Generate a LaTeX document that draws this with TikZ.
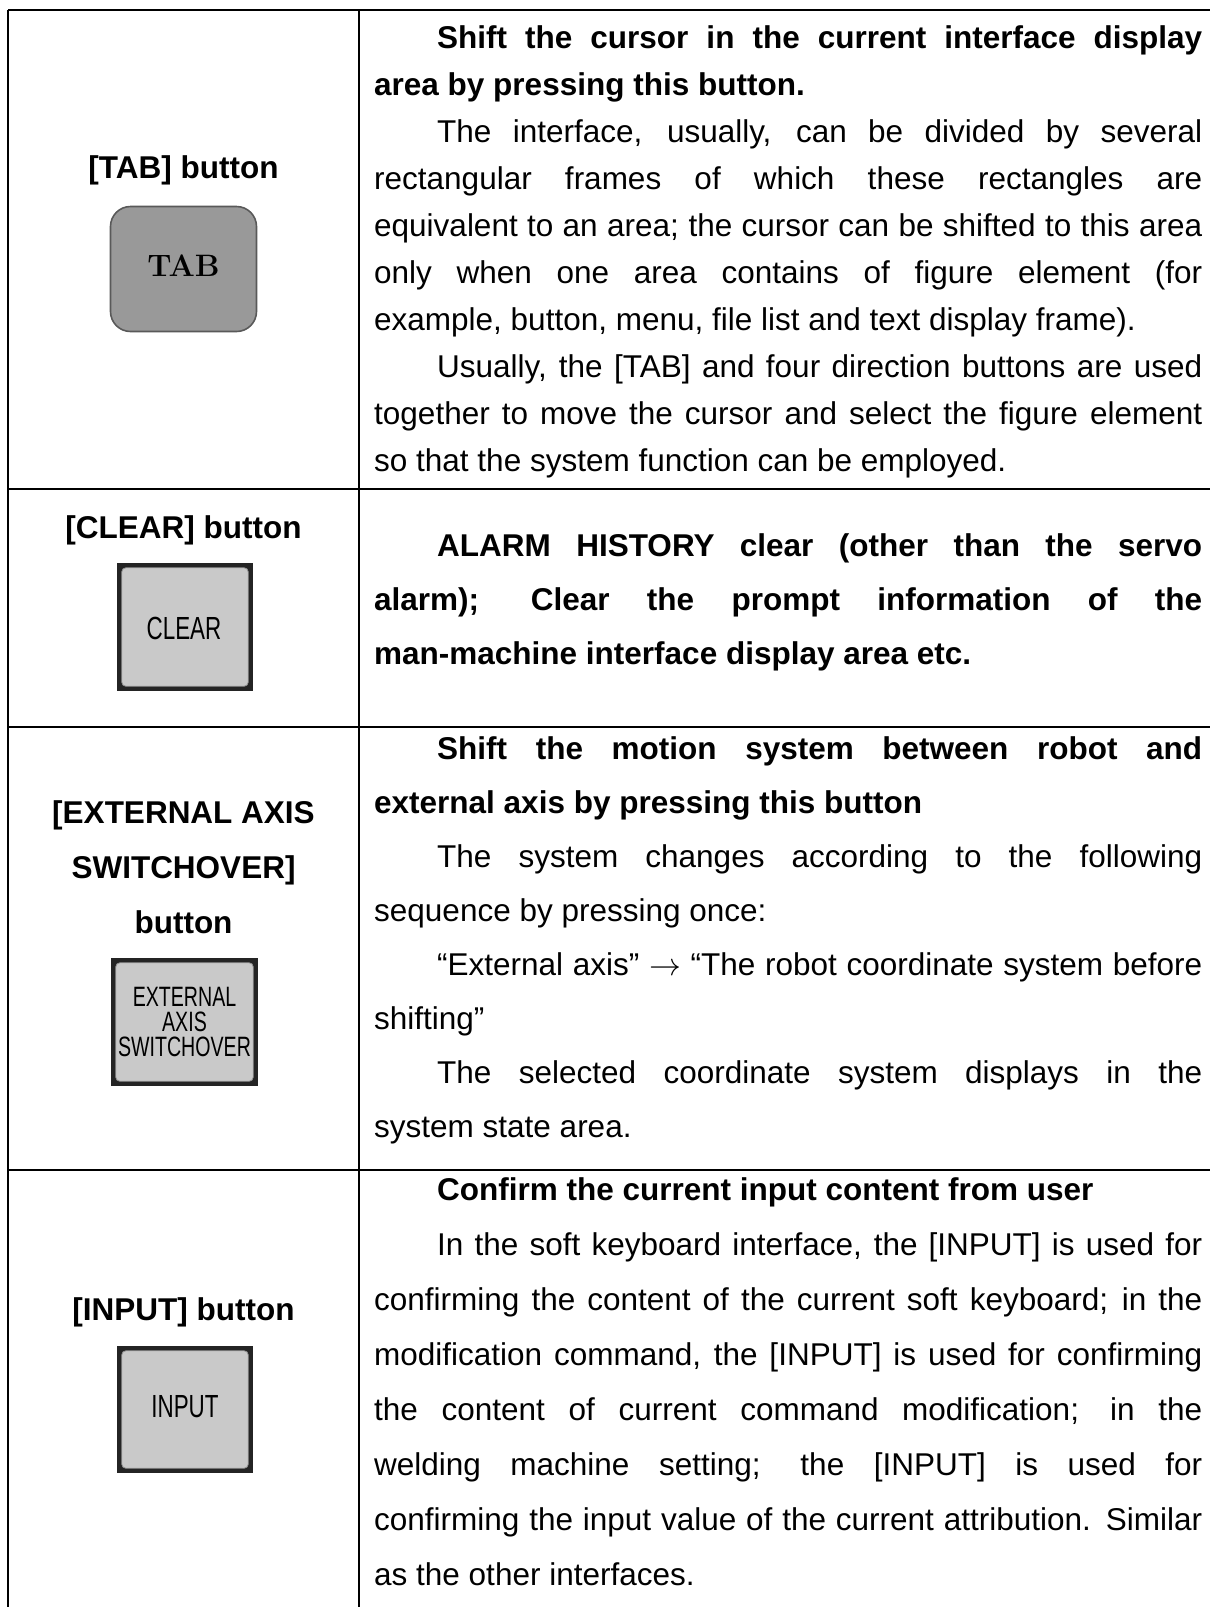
\documentclass[tikz,border=0pt]{standalone}
\usepackage{fontspec}
\newfontfamily\arial{Liberation Sans}
\newfontfamily\keyfont[FakeStretch=0.7]{Liberation Sans}

% justified cell text: first baseline sits on the node's base line
\newcommand{\cellbody}[2]{\vtop{\hsize=828pt\fontsize{31.5}{#1}\selectfont
  \parindent=63pt\parskip=0pt\tolerance=10000\hyphenpenalty=10000
  \exhyphenpenalty=10000\leftskip=0pt\rightskip=0pt
  \parfillskip=0pt plus 1fil #2\par}}
% long thin arrow at text size
\newcommand{\seqarrow}{\scalebox{1.28}{$\rightarrow$}}

\tikzset{
  rule/.style={line width=2pt},
  title/.style={font=\arial\bfseries\fontsize{31.5}{54}\selectfont, anchor=base, inner sep=0pt},
  body/.style={font=\arial, anchor=base west, inner sep=0pt},
  roundkey/.style={draw=black!65, line width=1.6pt, fill=black!40, rounded corners=20pt,
    minimum width=146pt, minimum height=125pt, inner sep=0pt},
  keyframe/.style={fill=black!86, inner sep=0pt},
  keyface/.style={fill=black!21, draw=black!42, line width=0.8pt, rounded corners=4pt},
  keylabel/.style={font=\keyfont\fontsize{32}{25}\selectfont, inner sep=0pt, align=center},
}

\begin{document}
\begin{tikzpicture}[x=1pt, y=-1pt]
\useasboundingbox (0,0) rectangle (1210,1607);

% table rules
\coordinate (tl) at (8,10);
\coordinate (tr) at (1210,10);
\coordinate (bl) at (8,1607);
\coordinate (ct) at (359,10);
\coordinate (cb) at (359,1607);
\draw[rule] (tl) -- (tr);
\draw[rule] (tl) -- (bl);
\draw[rule] (ct) -- (cb);
\foreach \yy/\nm in {489/a, 727/b, 1170/c}{
  \coordinate (h\nm l) at (8,\yy);
  \coordinate (h\nm r) at (1210,\yy);
  \draw[rule] (h\nm l) -- (h\nm r);
}

% ---------- row 1: TAB ----------
\node[title] (tabtitle) at (183.5,178) {[TAB] button};
\node[roundkey] (tabkey) at (183.5,269) {};
\node[font=\bfseries\fontsize{31}{31}\selectfont, inner sep=0pt] (tablabel) at (183.5,266) {TAB};

\node[body] (tabtext) at (374,48) {\cellbody{47}{%
\textbf{Shift the cursor in the current interface display \linebreak area by pressing this button.}\par
The interface, usually, can be divided by several \linebreak rectangular frames of which these rectangles are \linebreak equivalent to an area; the cursor can be shifted to this area \linebreak only when one area contains of figure element (for \linebreak example, button, menu, file list and text display frame).\par
Usually, the [TAB] and four direction buttons are used \linebreak together to move the cursor and select the figure element \linebreak so that the system function can be employed.}};

% ---------- row 2: CLEAR ----------
\node[title] (cleartitle) at (183.5,538) {[CLEAR] button};
\node[keyframe, minimum width=136pt, minimum height=128pt] (clearkey) at (185,627) {};
\draw[keyface] ([shift={(5,5)}]clearkey.north west) rectangle ([shift={(-5,-5)}]clearkey.south east);
\node[keylabel] (clearlabel) at (184,628) {CLEAR};

\node[body] (cleartext) at (374,556) {\cellbody{54}{%
\textbf{ALARM HISTORY clear (other than the servo \linebreak alarm); Clear the prompt information of the \linebreak man-machine interface display area etc.}}};

% ---------- row 3: EXTERNAL AXIS SWITCHOVER ----------
\node[title] (exttitlea) at (183.5,823) {[EXTERNAL AXIS};
\node[title] (exttitleb) at (183.5,878) {SWITCHOVER]};
\node[title] (exttitlec) at (183.5,933) {button};
\node[keyframe, minimum width=147pt, minimum height=128pt] (extkey) at (184.5,1022) {};
\draw[keyface] ([shift={(5,5)}]extkey.north west) rectangle ([shift={(-5,-5)}]extkey.south east);
\node[keylabel, font=\keyfont\fontsize{28}{25}\selectfont] (extlabel) at (184.5,1022) {EXTERNAL\\AXIS\\SWITCHOVER};

\node[body] (exttext) at (374,759) {\cellbody{54}{%
\textbf{Shift the motion system between robot and \linebreak external axis by pressing this button}\par
The system changes according to the following \linebreak sequence by pressing once:\par
“External axis” \seqarrow{} “The robot coordinate system before \linebreak shifting”\par
The selected coordinate system displays in the \linebreak system state area.}};

% ---------- row 4: INPUT ----------
\node[title] (inputtitle) at (183.5,1320) {[INPUT] button};
\node[keyframe, minimum width=136pt, minimum height=127pt] (inputkey) at (185,1409.5) {};
\draw[keyface] ([shift={(5,5)}]inputkey.north west) rectangle ([shift={(-5,-5)}]inputkey.south east);
\node[keylabel] (inputlabel) at (185,1407) {INPUT};

\node[body] (inputtext) at (374,1200) {\cellbody{55}{%
\textbf{Confirm the current input content from user}\par
In the soft keyboard interface, the [INPUT] is used for \linebreak confirming the content of the current soft keyboard; in the \linebreak modification command, the [INPUT] is used for confirming \linebreak the content of current command modification; in the \linebreak welding machine setting; the [INPUT] is used for \linebreak confirming the input value of the current attribution. Similar \linebreak as the other interfaces.}};
\end{tikzpicture}
\end{document}
